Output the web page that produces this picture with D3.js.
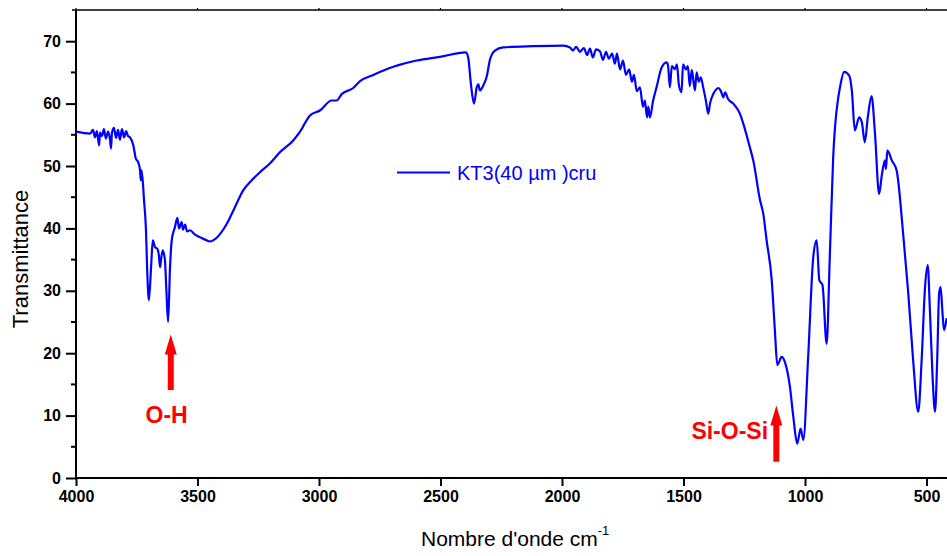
<!DOCTYPE html>
<html>
<head>
<meta charset="utf-8">
<script src="https://cdn.jsdelivr.net/npm/d3@7"></script>
<style>
  html, body { margin: 0; padding: 0; background: #fff; }
  svg { display: block; }
  text { font-family: "Liberation Sans", Arial, sans-serif; }
</style>
</head>
<body>
<svg id="chart" width="947" height="556"></svg>
<script>
// FTIR spectrum of sample KT3 (40 µm), raw
const wavenumber = [
  4000, 3942, 3930, 3922, 3914, 3905, 3901, 3893, 3885, 3877, 3868, 3860, 3856, 3852,
  3844, 3835, 3827, 3819, 3811, 3802, 3794, 3786, 3778, 3764, 3754, 3744, 3737, 3733,
  3730, 3720, 3712, 3707, 3700, 3691, 3684, 3675, 3665, 3660, 3654, 3650, 3643, 3634,
  3628, 3621, 3613, 3606, 3593, 3583, 3576, 3565, 3560, 3551, 3543, 3531, 3510, 3490,
  3469, 3449, 3421, 3380, 3346, 3312, 3277, 3243, 3202, 3161, 3106, 3078, 3037, 2996,
  2948, 2927, 2907, 2859, 2831, 2777, 2694, 2598, 2502, 2396, 2386, 2375, 2362, 2351,
  2344, 2338, 2324, 2310, 2296, 2276, 2242, 2118, 1995, 1967, 1955, 1942, 1926, 1910,
  1897, 1885, 1873, 1860, 1844, 1831, 1819, 1807, 1794, 1782, 1774, 1761, 1749, 1737,
  1724, 1712, 1704, 1692, 1679, 1667, 1659, 1650, 1645, 1638, 1625, 1611, 1590, 1569,
  1564, 1556, 1548, 1535, 1527, 1519, 1508, 1502, 1490, 1482, 1474, 1466, 1453, 1446,
  1437, 1429, 1419, 1408, 1398, 1391, 1378, 1367, 1357, 1346, 1336, 1329, 1316, 1295,
  1268, 1254, 1227, 1213, 1185, 1172, 1158, 1137, 1124, 1114, 1096, 1083, 1062, 1048,
  1032, 1018, 1007, 987, 966, 952, 941, 928, 911, 898, 884, 863, 856, 839,
  818, 807, 795, 777, 766, 754, 741, 726, 712, 695, 684, 671, 667, 661,
  643, 623, 596, 575, 555, 534, 520, 506, 495, 486, 475, 465, 456, 448,
  442, 434, 428, 417
];
const transmittance = [
  55.5, 55.2, 55.8, 54.6, 55.6, 53.3, 55.4, 54.8, 55.9, 54.4, 55.5, 54.2, 52.8, 55.3,
  56.1, 54.5, 55.8, 54.2, 55.9, 54.6, 55.6, 54.8, 54.6, 53.3, 51.2, 50.6, 49.5, 47.7,
  49.3, 44.5, 39.7, 33.3, 28.5, 33.8, 38.1, 37.0, 36.7, 36.0, 33.8, 35.0, 36.5, 34.9,
  30.0, 25.0, 33.8, 38.1, 40.2, 41.7, 40.0, 41.0, 39.8, 40.6, 39.5, 39.7, 39.0, 38.6,
  38.2, 37.9, 38.5, 40.7, 43.4, 46.1, 47.7, 49.0, 50.4, 52.2, 54.1, 55.5, 58.1, 58.9,
  60.5, 60.5, 61.5, 62.5, 63.6, 64.6, 65.9, 66.9, 67.5, 68.2, 67.4, 63.2, 60.0, 62.6,
  63.1, 62.1, 62.9, 64.3, 67.1, 68.5, 69.0, 69.2, 69.3, 69.0, 68.5, 69.1, 68.3, 68.9,
  67.8, 68.8, 67.4, 68.7, 68.4, 67.0, 68.3, 67.2, 68.0, 66.4, 68.0, 65.5, 66.9, 64.6,
  65.5, 63.5, 64.6, 62.0, 62.6, 59.5, 60.5, 57.8, 59.5, 57.8, 60.5, 62.6, 65.8, 66.6,
  66.2, 62.6, 66.0, 65.5, 66.3, 63.0, 61.8, 66.3, 65.5, 66.0, 62.8, 65.4, 62.1, 65.0,
  63.5, 64.2, 62.6, 60.5, 58.4, 60.0, 61.5, 62.2, 62.5, 62.0, 61.0, 61.8, 60.7, 60.0,
  58.4, 56.8, 53.0, 50.9, 44.5, 42.4, 38.1, 31.7, 23.7, 18.1, 19.4, 18.6, 14.6, 9.8,
  5.5, 7.9, 6.1, 19.4, 35.4, 38.1, 31.7, 30.9, 21.5, 35.4, 51.4, 61.0, 62.6, 65.1,
  64.5, 62.0, 55.7, 57.8, 57.0, 53.8, 58.0, 61.2, 55.2, 45.5, 48.5, 50.9, 49.5, 52.5,
  50.9, 49.3, 39.1, 29.6, 18.9, 10.6, 18.9, 30.6, 34.1, 26.9, 16.2, 10.6, 18.9, 29.6,
  30.6, 26.4, 23.7, 25.6
];

const xTicks = [4000, 3500, 3000, 2500, 2000, 1500, 1000, 500];
const yTicks = [0, 10, 20, 30, 40, 50, 60, 70];
const yMinorTicks = [5, 15, 25, 35, 45, 55, 65];

const seriesName = "KT3(40 µm )cru";
const xTitle = "Nombre d'onde cm";
const xTitleSup = "-1";
const yTitle = "Transmittance";

// band annotations: label, wavenumber of arrow, arrow tip / tail, label position
const bandLabels = ["O-H", "Si-O-Si"];
const bandArrowWn = [3610, 1118];
const bandArrowTip = [23.0, 11.6];
const bandArrowTail = [14.1, 2.6];
const bandLabelWn = [3627, 1152];
const bandLabelT = [8.8, 6.2];
const bandLabelAnchor = ["middle", "end"];

const svg = d3.select("#chart");
const plotLeft = 76, plotTop = 10, plotBottom = 478;
const pxPer500 = 121.5;

const x = d3.scaleLinear()
  .domain([4000, 400])
  .range([plotLeft, plotLeft + (3600 / 500) * pxPer500]);
const y = d3.scaleLinear().domain([0, 75]).range([plotBottom, plotTop]);

const data = wavenumber.map((w, i) => ({ w, t: transmittance[i] }));

// frame top line with tiny outward ticks
svg.append("line")
  .attr("x1", plotLeft - 4).attr("x2", 947)
  .attr("y1", plotTop).attr("y2", plotTop)
  .attr("stroke", "#000").attr("stroke-width", 1.6);
svg.append("g").selectAll("line").data(xTicks).join("line")
  .attr("x1", d => x(d)).attr("x2", d => x(d))
  .attr("y1", plotTop).attr("y2", plotTop - 2)
  .attr("stroke", "#000").attr("stroke-width", 1.2);

// bottom axis
const gx = svg.append("g").attr("transform", `translate(0,${plotBottom})`)
  .call(d3.axisBottom(x).tickValues(xTicks).tickSize(8).tickPadding(5).tickFormat(d3.format("d")));
gx.select(".domain").attr("stroke-width", 2).attr("d", `M${plotLeft},0H947`);
gx.selectAll(".tick line").attr("stroke-width", 2);
gx.selectAll(".tick text")
  .attr("font-family", "'Liberation Sans', Arial, sans-serif")
  .attr("font-size", 16).attr("font-weight", "bold").attr("fill", "#000");

// left axis
const gy = svg.append("g").attr("transform", `translate(${plotLeft},0)`)
  .call(d3.axisLeft(y).tickValues(yTicks).tickSize(10).tickPadding(5));
gy.select(".domain").attr("stroke-width", 2).attr("d", `M0,${plotTop}V${plotBottom}`);
gy.selectAll(".tick line").attr("stroke-width", 2);
gy.selectAll(".tick text")
  .attr("font-family", "'Liberation Sans', Arial, sans-serif")
  .attr("font-size", 16).attr("font-weight", "bold").attr("fill", "#000");
svg.append("g").selectAll("line").data(yMinorTicks).join("line")
  .attr("x1", plotLeft - 5).attr("x2", plotLeft)
  .attr("y1", d => y(d)).attr("y2", d => y(d))
  .attr("stroke", "#000").attr("stroke-width", 2);

// spectrum
const line = d3.line()
  .x(d => x(d.w))
  .y(d => y(d.t))
  .curve(d3.curveMonotoneX);
svg.append("path")
  .datum(data)
  .attr("d", line)
  .attr("fill", "none")
  .attr("stroke", "#0000ff")
  .attr("stroke-width", 2.2)
  .attr("stroke-linejoin", "round");

// legend
svg.append("line")
  .attr("x1", 397).attr("x2", 450).attr("y1", 172.5).attr("y2", 172.5)
  .attr("stroke", "#0000ff").attr("stroke-width", 2.2);
svg.append("text")
  .attr("x", 457).attr("y", 180)
  .attr("font-size", 20).attr("fill", "#0000ff")
  .text(seriesName);

// band annotations
bandLabels.forEach((lab, i) => {
  const ax = x(bandArrowWn[i]);
  const tipY = y(bandArrowTip[i]);
  const tailY = y(bandArrowTail[i]);
  const headH = 20, headW = 12, shaftW = 6;
  const p = d3.path();
  p.moveTo(ax, tipY);
  p.lineTo(ax + headW / 2, tipY + headH);
  p.lineTo(ax + shaftW / 2, tipY + headH);
  p.lineTo(ax + shaftW / 2, tailY);
  p.lineTo(ax - shaftW / 2, tailY);
  p.lineTo(ax - shaftW / 2, tipY + headH);
  p.lineTo(ax - headW / 2, tipY + headH);
  p.closePath();
  svg.append("path").attr("d", p.toString()).attr("fill", "#ff0000");
  svg.append("text")
    .attr("x", x(bandLabelWn[i])).attr("y", y(bandLabelT[i]))
    .attr("text-anchor", bandLabelAnchor[i])
    .attr("font-size", 23).attr("font-weight", "bold").attr("fill", "#ff0000")
    .text(lab);
});

// axis titles
svg.append("text")
  .attr("transform", "translate(28,259) rotate(-90)")
  .attr("text-anchor", "middle")
  .attr("font-size", 22).attr("fill", "#000")
  .text(yTitle);
const xt = svg.append("text")
  .attr("x", 421).attr("y", 546)
  .attr("font-size", 21).attr("fill", "#000");
xt.append("tspan").text(xTitle);
xt.append("tspan").attr("dy", -11).attr("font-size", 13).text(xTitleSup);
</script>
</body>
</html>
